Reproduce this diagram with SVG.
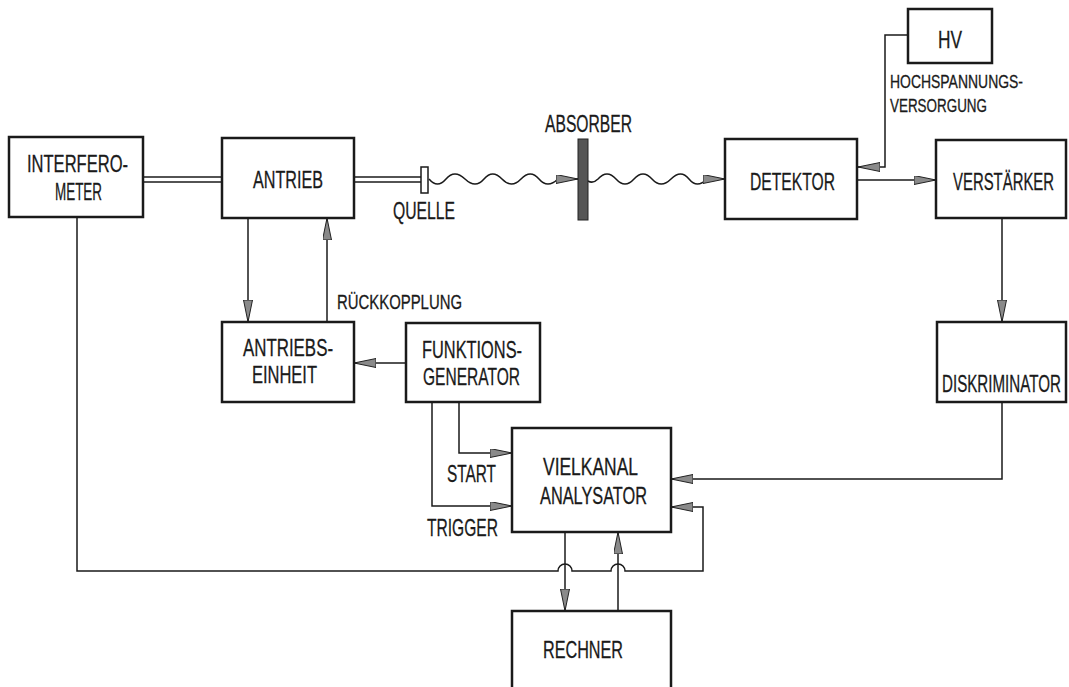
<svg xmlns="http://www.w3.org/2000/svg" width="1069" height="687" viewBox="0 0 1069 687">
<defs>
<marker id="arr" markerUnits="userSpaceOnUse" markerWidth="24" markerHeight="11" refX="22" refY="4.5" orient="auto">
<path d="M0,0 L22,4.5 L0,9 z" fill="#8a8a8a" stroke="#222" stroke-width="1"/>
</marker>
</defs>
<style>
.box{fill:#fff;stroke:#1a1a1a;stroke-width:2.5}
.t{font-family:"Liberation Sans",Arial,sans-serif;font-size:24px;fill:#1a1a1a;stroke:#1a1a1a;stroke-width:0.3}
.s{font-family:"Liberation Sans",Arial,sans-serif;font-size:21px;fill:#1a1a1a;stroke:#1a1a1a;stroke-width:0.3}
.xs{font-family:"Liberation Sans",Arial,sans-serif;font-size:18px;fill:#1a1a1a;stroke:#1a1a1a;stroke-width:0.3}
.ln{fill:none;stroke:#1a1a1a;stroke-width:1.5}
.a{marker-end:url(#arr)}
</style>
<rect width="1069" height="687" fill="#fff"/>

<g id="connectors">
<line class="ln" x1="143" y1="177" x2="222" y2="177"/>
<line class="ln" x1="143" y1="182" x2="222" y2="182"/>
<line class="ln" x1="354" y1="177" x2="421" y2="177"/>
<line class="ln" x1="354" y1="182" x2="421" y2="182"/>
<path class="ln a" d="M429,179 Q437.5,189 446,179 T465,179 T484,179 T502,179 T521,179 T539,179 T558,179 L578,179"/>
<path class="ln a" d="M588,181 Q593,184 598,179 Q607,169 616,179 T634,179 T652,179 T671,179 T689,179 T707,179 L725,179"/>
<path class="ln a" d="M908,35 H885 V167 H858"/>
<path class="ln a" d="M857,180 H936"/>
<path class="ln a" d="M1002,218 V322"/>
<path class="ln a" d="M1002,402 V479 H671"/>
<path class="ln a" d="M248,218 V322"/>
<path class="ln a" d="M327,322 V218"/>
<path class="ln a" d="M406,363 H354"/>
<path class="ln a" d="M459,402 V453 H512"/>
<path class="ln a" d="M432,402 V506 H512"/>
<path class="ln a" d="M77,217 V571 H558 A7,7 0 0 1 572,571 H611 A7,7 0 0 1 625,571 H703 V507 H671"/>
<path class="ln a" d="M565,532 V611"/>
<path class="ln a" d="M618,611 V532"/>
</g>

<g id="interferometer">
<rect class="box" x="9" y="137" width="134" height="80"/>
<text class="t" x="27" y="172" textLength="101" lengthAdjust="spacingAndGlyphs">INTERFERO-</text>
<text class="t" x="55" y="200" textLength="47" lengthAdjust="spacingAndGlyphs">METER</text>
</g>
<g id="antrieb">
<rect class="box" x="222" y="138" width="132" height="80"/>
<text class="t" x="253" y="188" textLength="70" lengthAdjust="spacingAndGlyphs">ANTRIEB</text>
</g>
<g id="quelle">
<rect x="421" y="167" width="7" height="26" fill="#fff" stroke="#1a1a1a" stroke-width="1.5"/>
<text class="t" x="393" y="219" textLength="62" lengthAdjust="spacingAndGlyphs">QUELLE</text>
</g>
<g id="absorber">
<rect x="578" y="139" width="10" height="81" fill="#555" stroke="#222" stroke-width="1"/>
<text class="t" x="545" y="132" textLength="87" lengthAdjust="spacingAndGlyphs">ABSORBER</text>
</g>
<g id="hv">
<rect class="box" x="908" y="9" width="84" height="54"/>
<text class="t" x="938" y="48" textLength="24" lengthAdjust="spacingAndGlyphs">HV</text>
<text class="xs" x="890" y="88" textLength="133" lengthAdjust="spacingAndGlyphs">HOCHSPANNUNGS-</text>
<text class="xs" x="890" y="112" textLength="97" lengthAdjust="spacingAndGlyphs">VERSORGUNG</text>
</g>
<g id="detektor">
<rect class="box" x="725" y="139" width="132" height="80"/>
<text class="t" x="750" y="190" textLength="85" lengthAdjust="spacingAndGlyphs">DETEKTOR</text>
</g>
<g id="verstaerker">
<rect class="box" x="936" y="140" width="130" height="78"/>
<text class="t" transform="translate(953,190) scale(0.62,1)" x="0" y="0" textLength="163" lengthAdjust="spacingAndGlyphs">VERSTÄRKER</text>
</g>
<g id="diskriminator">
<rect class="box" x="937" y="322" width="129" height="80"/>
<text class="t" transform="translate(942,392) scale(0.61,1)" x="0" y="0" textLength="195" lengthAdjust="spacingAndGlyphs">DISKRIMINATOR</text>
</g>
<g id="antriebseinheit">
<rect class="box" x="222" y="322" width="132" height="80"/>
<text class="t" x="243" y="356" textLength="90" lengthAdjust="spacingAndGlyphs">ANTRIEBS-</text>
<text class="t" x="252" y="383" textLength="65" lengthAdjust="spacingAndGlyphs">EINHEIT</text>
</g>
<g id="rueckkopplung">
<text class="s" x="337" y="309" textLength="125" lengthAdjust="spacingAndGlyphs">RÜCKKOPPLUNG</text>
</g>
<g id="funktionsgenerator">
<rect class="box" x="406" y="323" width="134" height="79"/>
<text class="t" x="422" y="358" textLength="100" lengthAdjust="spacingAndGlyphs">FUNKTIONS-</text>
<text class="t" x="423" y="385" textLength="97" lengthAdjust="spacingAndGlyphs">GENERATOR</text>
</g>
<g id="labels">
<text class="t" x="447" y="482" textLength="49" lengthAdjust="spacingAndGlyphs">START</text>
<text class="t" x="427" y="536" textLength="71" lengthAdjust="spacingAndGlyphs">TRIGGER</text>
</g>
<g id="vielkanal">
<rect class="box" x="512" y="428" width="159" height="104"/>
<text class="t" x="543" y="475" textLength="95" lengthAdjust="spacingAndGlyphs">VIELKANAL</text>
<text class="t" x="540" y="504" textLength="107" lengthAdjust="spacingAndGlyphs">ANALYSATOR</text>
</g>
<g id="rechner">
<rect class="box" x="512" y="611" width="159" height="90"/>
<text class="t" x="543" y="658" textLength="80" lengthAdjust="spacingAndGlyphs">RECHNER</text>
</g>
</svg>
